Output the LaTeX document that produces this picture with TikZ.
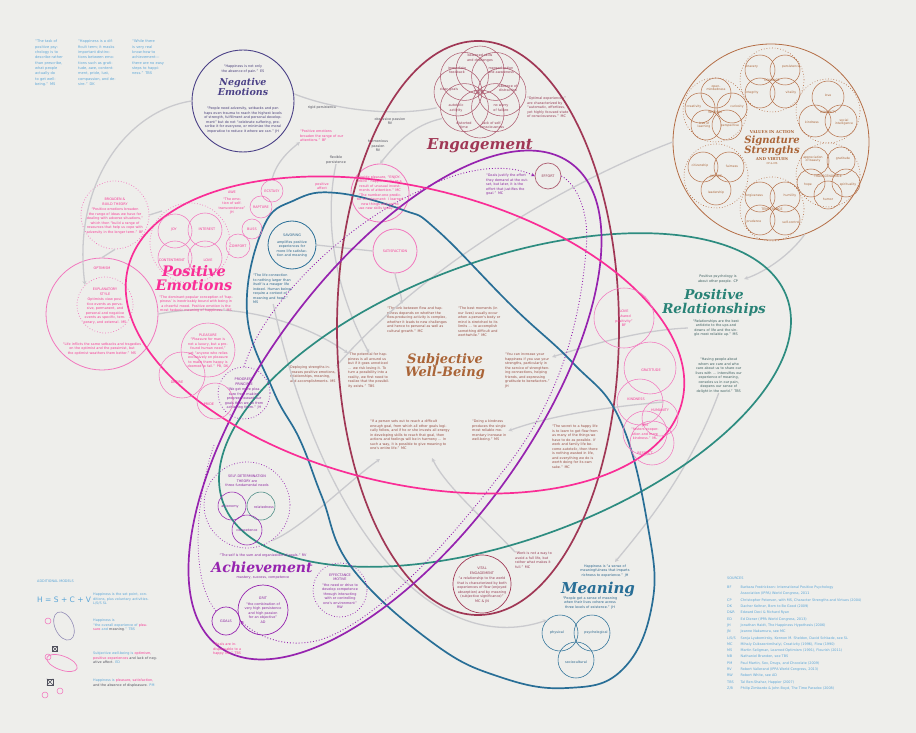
\documentclass[tikz,border=0pt]{standalone}
\usepackage{fontspec}
\setmainfont{DejaVu Sans}
\newfontfamily\ttlfont{DejaVu Serif}
\newfontfamily\smfont{DejaVu Sans}
\usetikzlibrary{arrows.meta,calc}
\definecolor{bgc}{RGB}{238,238,235}
\definecolor{pk}{RGB}{250,45,150}
\definecolor{pkl}{RGB}{242,120,190}
\definecolor{tl}{RGB}{45,140,128}
\definecolor{mr}{RGB}{160,55,85}
\definecolor{flc}{RGB}{175,95,115}
\definecolor{pu}{RGB}{150,35,175}
\definecolor{bl}{RGB}{40,110,150}
\definecolor{nv}{RGB}{75,65,135}
\definecolor{brc}{RGB}{180,110,70}
\definecolor{gr}{RGB}{202,202,206}
\definecolor{tpk}{RGB}{245,60,150}
\definecolor{tnv}{RGB}{70,60,120}
\definecolor{tmr}{RGB}{150,60,85}
\definecolor{tbr}{RGB}{170,100,55}
\definecolor{tsw}{RGB}{150,75,65}
\definecolor{ttl}{RGB}{40,130,118}
\definecolor{tpu}{RGB}{140,40,160}
\definecolor{tbl}{RGB}{40,100,140}
\definecolor{tlb}{RGB}{90,165,215}
\definecolor{tdk}{RGB}{80,80,92}
\definecolor{trel}{RGB}{60,95,95}
\begin{document}
\begin{tikzpicture}[x=1pt,y=-1pt,
  tx/.style={font={\smfont\fontsize{3.4}{4.5}\selectfont}, inner sep=0pt, align=center},
  txl/.style={tx, align=left, anchor=north west},
  ttlf/.style={font={\ttlfont\bfseries\itshape\fontsize{#1}{#1}\selectfont}, inner sep=0pt, align=center},
  ring/.style={circle, draw, inner sep=0pt, line width=0.55pt},
  dring/.style={circle, draw, inner sep=0pt, line width=0.75pt, dotted},
  rad/.style={minimum size={2*#1pt}},
  bigloop/.style={line width=1.7pt},
  garr/.style={draw=gr, line width=1.3pt, -{Stealth[length=4pt,width=4pt]}},
  gline/.style={draw=gr, line width=1.3pt},
  parr/.style={draw=pu, line width=0.9pt, dotted, -{Stealth[length=3.5pt,width=3.5pt]}}
]
\fill[bgc] (0,0) rectangle (916,733);
\useasboundingbox (0,0) rectangle (916,733);

% ---------- top-left quotes ----------
\node[txl, text=tlb, text width=28pt, font={\smfont\fontsize{3.6}{5.3}\selectfont}] (q1) at (35,40) {“The task of positive psychology is to describe rather than prescribe, what people actually do to get well-being.” MS};
\node[txl, text=tlb, text width=38pt, font={\smfont\fontsize{3.6}{5.3}\selectfont}] (q2) at (78,40) {“Happiness is a difficult term; it masks important distinctions between emotions such as gratitude, awe, contentment, pride, lust, compassion, and desire.” DK};
\node[txl, text=tlb, text width=34pt, font={\smfont\fontsize{3.6}{5.3}\selectfont}] (q3) at (132,40) {“While there is very real know-how to achievement---there are no easy steps to happiness.” TBS};

% ---------- grey connectors ----------
\node[ring, draw=nv, line width=0.9pt, rad=51] (neg) at (243,101) {};
\node[dring, draw=pkl, rad=28] (expl) at (105,305) {};
\node[dring, draw=pkl, rad=34] (bb) at (115,215) {};
\node[ring, draw=pkl, line width=0.8pt, rad=56] (opt) at (102,314) {};
\coordinate (flc) at (480,92);
\node[circle, inner sep=0pt, rad=46] (fl) at (flc) {};
\node[ring, draw=pkl, line width=0.8pt, rad=29] (enj) at (380,193) {};
\node[ring, draw=pkl, line width=0.8pt, rad=22] (satis) at (395,251) {};
\node[ring, draw=bl, line width=0.8pt, rad=24] (sav) at (292,245) {};
\node[ring, draw=pkl, rad=11] (ecs) at (272,191) {};
\node[ring, draw=brc, line width=0.8pt, rad=98] (sig) at (771,142) {};
\node[ring, draw=pkl, rad=23] (kind) at (640,402) {};
\node[dring, draw=pu, rad=43] (sdt) at (247,505) {};
\node[ring, draw=bl, rad=18] (mphys) at (560,633) {};

\node[txl, text=tbl, text width=40pt] (lifeq) at (253,274) {“The life connection to nothing larger than itself is a meager life indeed. Human beings require a context of meaning and hope.” MS};
\node[txl, text=tsw, text width=42pt] (potq) at (348,353) {“The potential for happiness is all around us but if it goes unnoticed ... we risk losing it. To turn a possibility into a reality, we first need to realize that the possibility exists.” TBS};
\node[txl, text=tsw, text width=46pt] (deploy) at (290,366) {Deploying strengths increases positive emotions, relationships, meaning, and accomplishments. MS};
\node[txl, text=tsw, text width=60pt] (linkq) at (387,307) {“The link between flow and happiness depends on whether the flow-producing activity is complex, whether it leads to new challenges and hence to personal as well as cultural growth.” MC};
\node[txl, text=tsw, text width=46pt] (bestq) at (458,307) {“The best moments (in our lives) usually occur when a person's body or mind is stretched to its limits ... to accomplish something difficult and worthwhile.” MC};
\node[txl, text=tsw, text width=46pt] (incq) at (505,353) {“You can increase your happiness if you use your strengths, particularly in the service of strengthening connections, helping friends, and expressing gratitude to benefactors.” JH};
\node[txl, text=tsw, text width=80pt] (ifq) at (370,420) {“If a person sets out to reach a difficult enough goal, from which all other goals logically follow, and if he or she invests all energy in developing skills to reach that goal, then actions and feelings will be in harmony ... In such a way, it is possible to give meaning to one's entire life.” MC};
\node[txl, text=tsw, text width=36pt] (kindq) at (472,420) {“Doing a kindness produces the single most reliable momentary increase in well-being.” MS};
\node[txl, text=tsw, text width=48pt] (secq) at (552,425) {“The secret to a happy life is to learn to get flow from as many of the things we have to do as possible. If work and family life become autotelic, then there is nothing wasted in life, and everything we do is worth doing for its own sake.” MC};
\node[txl, text=tpk, text width=46pt] (pbq) at (300,130) {“Positive emotions broaden the range of our attentions.” BF};
\node[tx, text=tdk] (rigid) at (322,108) {rigid persistence};
\node[tx, text=tdk] (obs) at (390,121) {obsessive passion\\RV};
\node[tx, text=tdk] (harm) at (378,146) {harmonious\\passion\\RV};
\node[tx, text=tdk] (flexp) at (336,160) {flexible\\persistence};
\node[tx, text=tpk] (posaff) at (322,186) {positive\\affect};
\node[txl, text=trel, text width=52pt, align=center, anchor=center] (ppq) at (718,279) {Positive psychology is about other people. CP};
\node[txl, text=trel, text width=56pt, align=center, anchor=center] (relq) at (716,328) {“Relationships are the best antidote to the ups and downs of life and the single most reliable up.” MS};
\node[txl, text=trel, text width=47pt, align=center] (havq) at (695,358) {“Having people about whom we care and who care about us to share our lives with ... intensifies our experience of meaning, consoles us in our pain, deepens our sense of delight in the world.” TBS};
\node[tx, text=tbl, text width=62pt] (mq1) at (605,571) {Happiness is “a sense of meaningfulness that imparts richness to experience.” JH};
\node[txl, text=tmr, text width=38pt] (workq) at (515,552) {“Work is not a way to avoid a full life, but rather what makes it full.” MC};

\draw[garr] (neg.west) .. controls (130,110) and (72,180) .. (expl.north west);
\draw[gline] (bb.east) -- (162,211);
\draw[gline] (bb.south) -- (opt.north);
\draw[garr] (opt.east) .. controls (230,300) and (300,320) .. (potq.north west);
\draw[garr] (lifeq.south) .. controls (320,520) and (430,660) .. (mphys.north west);
\draw[gline] (sav.east) -- (satis.west);
\coordinate (linkin) at (402,304);
\draw[garr] (satis.south) to[out=-80,in=95] (linkin);
\draw[gline] (deploy.north east) .. controls (420,270) and (560,185) .. (sig.west);
\draw[garr] (sig.-70) .. controls (790,255) and (765,272) .. (ppq.east);
\coordinate (incin) at (552,357);
\draw[garr] (relq.west) .. controls (640,330) and (590,345) .. (incin);
\draw[garr] (kind.east) .. controls (630,405) and (560,412) .. (kindq.east);
\coordinate (mqin) at (615,562);
\draw[garr] (havq.south) .. controls (690,470) and (650,520) .. (mqin);
\coordinate (ifin) at (432,458);
\draw[garr] (workq.north west) .. controls (480,515) and (445,485) .. (ifin);
\coordinate (ifin2) at (380,459);
\draw[garr] (sdt.-55) .. controls (300,530) and (350,480) .. (ifin2);
\draw[gline] (neg.8) .. controls (340,112) and (400,116) .. (fl.200);
\draw[garr] (fl.215) .. controls (412,125) and (395,145) .. (enj.north);
\draw[garr] (ecs.north) .. controls (276,162) and (290,150) .. (pbq.south west);
\draw[garr] (flexp.south) .. controls (322,230) and (340,300) .. (potq.north);

% ---------- major loops ----------
\draw[tl, bigloop, rotate around={20:(505,400)}] (505,400) ellipse [x radius=300pt, y radius=140pt];
\draw[mr, bigloop] (478,328) ellipse [x radius=141pt, y radius=287pt];
\draw[bl, bigloop] plot[smooth cycle, tension=0.7] coordinates {(263,228) (247,313) (273,390) (300,440) (322,497) (352,568) (433,643) (500,677) (567,688) (622,670) (652,605) (648,527) (620,420) (573,363) (513,307) (437,230) (403,210) (337,193) (295,200)};
\draw[pu, bigloop, rotate around={54:(395,405)}] (395,405) ellipse [x radius=299pt, y radius=134pt];
\draw[pk, bigloop] [rotate around={-13.5:(405,335)}] (405,335) ellipse [x radius=285pt, y radius=148pt];

% ---------- purple dotted arrows ----------
\node[ring, draw=flc, line width=0.7pt, rad=13] (effort) at (548,176) {};
\node[tx, text=tmr] (effortl) at (effort) {EFFORT};
\node[dring, draw=pu, rad=26] (prog) at (244,393) {};
\node[ring, draw=pu, line width=0.7pt, rad=14] (goals) at (226,621) {};
\draw[parr] (prog.north) .. controls (265,300) and (350,222) .. (417,192) .. controls (460,168) and (505,162) .. (effort.west);
\draw[parr] (effort.east) .. controls (578,185) and (590,215) .. (586,250) .. controls (578,350) and (545,420) .. (500,475) .. controls (450,540) and (380,620) .. (320,640) .. controls (290,648) and (262,640) .. (goals.east);
\draw[pu, line width=0.75pt, dotted] (214,445) .. controls (195,500) and (190,580) .. (goals.north west);

% ---------- Negative emotions ----------
\node[tx, text=tnv, text width=58pt] (negq) at (243,69) {“Happiness is not only the absence of pain.” ES};
\node[ttlf=9.5, text=nv] (negt) at (243,87) {Negative\\Emotions};
\node[tx, text=tnv, text width=78pt] (negb) at (243,120) {“People need adversity, setbacks and perhaps even trauma to reach the highest levels of strength, fulfillment and personal development” but do not “celebrate suffering, prescribe it for everyone, or minimize the moral imperative to reduce it where we can.” JH};

% ---------- Engagement / flow ----------
\foreach \a [count=\i] in {0,45,...,315} {
  \node[ring, draw=flc, rad=24] (pet\i) at ($(flc)+(\a:22pt)$) {};
}
\node[tx, text=tmr] (f1) at (480,58) {balanced skills\\and challenges};
\node[tx, text=tmr] (f2) at (457,70) {immediate\\feedback};
\node[tx, text=tmr] (f3) at (501,70) {merged action\\and awareness};
\node[tx, text=tmr] (f4) at (449,90) {clear goals};
\node[tx, text=tmr] (f5) at (479,92) {FLOW};
\node[tx, text=tmr] (f6) at (508,88) {absence of\\distraction};
\node[tx, text=tmr] (f7) at (456,108) {autotelic\\activity};
\node[tx, text=tmr] (f8) at (501,108) {no worry\\of failure};
\node[tx, text=tmr] (f9) at (464,125) {distorted\\time};
\node[tx, text=tmr] (f10) at (492,125) {lack of self-\\consciousness};
\node[txl, text=tmr, text width=42pt] (optq) at (527,97) {“Optimal experiences” are characterized by “automatic, effortless, yet highly focused state of consciousness.” MC};
\node[ttlf=15, text=mr] (engt) at (480,146) {Engagement};
\node[txl, text=tpu, text width=46pt] (goalq) at (486,174) {“Goals justify the effort they demand at the outset, but later, it is the effort that justifies the goal.” MC};

% ---------- Positive emotions ----------
\node[tx, text=tpk, text width=54pt] (enjt) at (380,193) {Inside pleasure, “ENJOYMENT” happens only as a result of unusual investments of attention.” MC\\“The number-one predictor of enjoyment: I learned new things and got to use new skills today.” TR};
\node[tx, text=tpk] (satl) at (satis) {SATISFACTION};
\node[tx, text=tpk, text width=30pt] (awe) at (232,203) {AWE\\[2pt]“The emotion of self-transcendence” JH};
\node[tx, text=tpk] (ecsl) at (ecs) {ECSTASY};
\node[ring, draw=pkl, rad=11] (rap) at (261,207) {};
\node[tx, text=tpk] (rapl) at (rap) {RAPTURE};
\node[ring, draw=pkl, rad=10] (bliss) at (252,229) {};
\node[tx, text=tpk] (blissl) at (bliss) {BLISS};
\node[ring, draw=pkl, rad=12] (comf) at (238,246) {};
\node[tx, text=tpk] (comfl) at (comf) {COMFORT};
\node[dring, draw=pkl, rad=40] (joyd) at (190,243) {};
\node[ring, draw=pkl, rad=17] (joy) at (175,231) {};
\node[ring, draw=pkl, rad=17] (inter) at (205,230) {};
\node[ring, draw=pkl, rad=17] (cont) at (175,258) {};
\node[ring, draw=pkl, rad=17] (lov) at (205,258) {};
\node[tx, text=tpk] (joyl) at (174,230) {JOY};
\node[tx, text=tpk] (interl) at (207,229) {INTEREST};
\node[tx, text=tpk] (contl) at (172,260) {CONTENTMENT};
\node[tx, text=tpk] (lovl) at (208,260) {LOVE};
\node[tx, text=tpk, text width=58pt] (bbt) at (115,216) {BROADEN \&\\BUILD THEORY\\[1pt]“Positive emotions broaden the range of ideas we have for dealing with adverse situations,” which then “build a range of resources that help us cope with adversity in the longer term.” BF};
\node[tx, text=tpk] (optl) at (102,268) {OPTIMISM};
\node[tx, text=tpk, text width=48pt] (explt) at (105,306) {EXPLANATORY\\STYLE\\[1pt]Optimists view positive events as pervasive, permanent, and personal and negative events as specific, temporary, and external. MS};
\node[tx, text=tpk, text width=84pt] (lifeopt) at (102,349) {“Life inflicts the same setbacks and tragedies on the optimist and the pessimist, but the optimist weathers them better.” MS};
\node[ttlf=14.5, text=pk] (pet) at (194,278) {Positive\\Emotions};
\node[tx, text=tpk, text width=88pt] (peb) at (196,304) {“The dominant popular conception of ‘happiness’ is inextricably bound with being in a cheerful mood. Positive emotion is the most hedonic meaning of happiness.” MS};
\node[ring, draw=pkl, rad=23] (des) at (182,375) {};
\node[tx, text=tpk] (desl) at (177,382) {DESIRE};
\node[ring, draw=pkl, rad=18] (pride) at (215,401) {};
\node[tx, text=tpk] (pridel) at (209,404) {PRIDE};
\node[ring, draw=pkl, fill=bgc, fill opacity=0.0, rad=27] (plea) at (208,350) {};
\node[tx, text=tpk, text width=46pt] (pleat) at (208,351) {PLEASURE\\“Pleasure for man is not a luxury, but a profound human need,” yet “anyone who relies exclusively on pleasure to make them happy is doomed to fail.” PB, DK};
\node[tx, text=tpu, text width=44pt] (progt) at (244,394) {PROGRESS\\PRINCIPLE\\[1pt]“We get more pleasure from making progress toward our goals than we do from achieving them.” JH};
\node[tx, text=tbl, text width=40pt] (savt) at (292,246) {SAVORING\\[2pt]amplifies positive experiences for more life satisfaction and meaning};

% ---------- Subjective well-being ----------
\node[ttlf=13, text=tbr] (swb) at (445,367) {Subjective\\Well-Being};

% ---------- Positive relationships ----------
\node[ring, draw=pkl, rad=30] (love2) at (624,318) {};
\node[tx, text=tpk] (love2l) at (624,318) {LOVE\\[1pt]“shared\\positivity”\\BF};
\node[ring, draw=pkl, rad=26] (grat) at (650,368) {};
\node[tx, text=tpk] (gratl) at (651,370) {GRATITUDE};
\node[tx, text=tpk] (kindl) at (636,399) {KINDNESS};
\node[ring, draw=pkl, rad=18] (hum) at (660,418) {};
\node[ring, draw=pkl, rad=22] (jen) at (645,433) {};
\node[ring, draw=pkl, rad=22] (resp) at (652,443) {};
\node[tx, text=tpk] (huml) at (660,410) {HUMANITY};
\node[tx, text=tpk, text width=36pt] (jenl) at (645,432) {JEN\\“fosters cooperation and more kindness.” ML};
\node[tx, text=tpk] (respl) at (645,453) {RESPECT};
\node[ttlf=13.5, text=ttl] (prt) at (714,303) {Positive\\Relationships};

% ---------- Signature strengths ----------
\foreach \n/\x/\y in {c1/772/80, c2/715/110, c3/828/111, c4/716/176, c5/828/175, c6/772/209} {
  \node[dring, draw=brc, line width=0.6pt, rad=32] (\n) at (\x,\y) {};
}
\foreach \n/\x/\y/\r in {a1/760/70/15, a2/785/70/15, a3/760/93/15, a4/785/93/15,
  b1/716/93/15, b2/700/108/15, b3/732/108/15, b4/706/125/15, b5/727/125/15,
  h1/828/97/16, h2/815/121/16, h3/841/121/16,
  j1/703/167/15, j2/729/167/15, j3/716/190/15,
  t1/815/161/14, t2/841/161/14, t3/811/183/14, t4/846/183/14, t5/828/195/14,
  m1/760/197/15, m2/785/197/15, m3/760/220/15, m4/785/220/15} {
  \node[ring, draw=brc, line width=0.5pt, rad=\r] (\n) at (\x,\y) {};
}
\foreach \n/\x/\y/\t in {la1/752/67/bravery, la2/791/67/persistence, la3/752/93/integrity, la4/791/93/vitality, lac/772/80/COURAGE,
  lb1/716/88/open-\\mindedness, lb2/694/107/creativity, lb3/737/107/curiosity, lb4/704/125/love of\\learning, lb5/730/126/perspective, lbc/715/112/WISDOM,
  lh1/828/95/love, lh2/812/122/kindness, lh3/844/122/social\\intelligence, lhc/828/112/HUMANITY,
  lj1/700/166/citizenship, lj2/732/166/fairness, lj3/716/193/leadership, ljc/716/177/JUSTICE,
  lt1/813/159/appreciation\\of beauty, lt2/843/159/gratitude, lt3/808/185/hope, lt4/848/185/spirituality, lt5/828/199/humor, ltc/828/176/TRANSCENDENCE,
  lm1/754/196/forgiveness, lm2/790/196/humility, lm3/754/222/prudence, lm4/791/222/self-control, lmc/772/209/TEMPERANCE} {
  \node[tx, text=tbr, font={\smfont\fontsize{3.1}{3.6}\selectfont}] (\n) at (\x,\y) {\t};
}
\node[tx, text=tbr, font={\ttlfont\bfseries\fontsize{4}{4}\selectfont}] (via) at (772,132) {VALUES IN ACTION};
\node[ttlf=10, text=tbr] (sigt) at (772,146) {Signature\\Strengths};
\node[tx, text=tbr, font={\ttlfont\bfseries\fontsize{4}{4}\selectfont}] (virt) at (772,159) {AND VIRTUES};
\node[tx, text=tbr, font={\smfont\fontsize{2.6}{3}\selectfont}] (cpms) at (772,164) {CP \& MS};

% ---------- Achievement ----------
\node[tx, text=tpu, text width=60pt] (sdtt) at (247,481) {SELF-DETERMINATION\\THEORY are\\three fundamental needs};
\node[ring, draw=pu, rad=14] (aut) at (232,506) {};
\node[ring, draw=tl!70!gray, rad=14] (rel) at (261,506) {};
\node[ring, draw=pu, rad=15] (comp) at (247,530) {};
\node[tx, text=tpu] (autl) at (230,507) {autonomy};
\node[tx, text=tpu] (rell) at (264,507) {relatedness};
\node[tx, text=tpu] (compl) at (247,531) {competence};
\node[tx, text=tpu] (selfq) at (263,556) {“The self is the sum and organization of goals.” RV};
\node[ttlf=14, text=pu] (acht) at (262,567) {Achievement};
\node[tx, text=tpu] (mast) at (263,578) {mastery, success, competence};
\node[ring, draw=pu, line width=0.7pt, rad=25] (grit) at (263,610) {};
\node[tx, text=tpu, text width=44pt] (gritt) at (263,610) {GRIT\\[1pt]“the combination of very high persistence and high passion for an objective”\\AD};
\node[tx, text=tpu] (goalsl) at (goals) {GOALS};
\node[txl, text=tpk, text width=30pt] (goalsq) at (213,643) {“Goals are indispensable to a happy life.” TBS};
\node[dring, draw=pu, rad=27] (eff) at (340,590) {};
\node[tx, text=tpu, text width=44pt] (efft) at (340,591) {EFFECTANCE\\MOTIVE\\[1pt]“the need or drive to develop competence through interacting with or controlling one's environment”\\RW};

% ---------- Meaning ----------
\node[ring, draw=mr, line width=0.7pt, rad=29] (vital) at (482,584) {};
\node[tx, text=tmr, text width=52pt] (vitalt) at (482,585) {VITAL\\ENGAGEMENT\\[1pt]“a relationship to the world that is characterized by both experiences of flow (enjoyed absorption) and by meaning (subjective significance)”\\MC \& JN};
\node[ttlf=15, text=bl] (meant) at (598,589) {Meaning};
\node[tx, text=tbl, text width=80pt] (mq2) at (590,603) {“People get a sense of meaning when their lives cohere across three levels of existence.” JH};
\node[ring, draw=bl, rad=18] (mpsy) at (592,633) {};
\node[ring, draw=bl, rad=18] (msoc) at (576,660) {};
\node[tx, text=tbl] (mphysl) at (557,633) {physical};
\node[tx, text=tbl] (mpsyl) at (596,633) {psychological};
\node[tx, text=tbl] (msocl) at (576,662) {sociocultural};

% ---------- Additional models ----------
\node[tx, text=tlb, anchor=west] (addm) at (37,581) {ADDITIONAL MODELS};
\node[text=tlb, anchor=west, inner sep=0pt, font={\smfont\fontsize{7.5}{8}\selectfont}] (hsv) at (37,600) {H = S + C + V};
\node[txl, text=tlb, text width=56pt] (m1t) at (93,593) {Happiness is the set point, conditions, plus voluntary activities. L/S/S SL};
\draw[nv!60, line width=0.6pt, rotate around={25:(64,626)}] (64,626) ellipse [x radius=9pt, y radius=15pt];
\node[ring, draw=pkl, rad=3] (i2) at (48,621) {};
\node[txl, text=tlb, text width=58pt] (m2t) at (93,619) {Happiness is\\“the overall experience of {\color{tpk}pleasure} and {\color{tdk}meaning}.” TBS};
\node[draw=tdk, line width=0.4pt, minimum size=5pt, inner sep=0pt] (bx1) at (55,649) {};
\draw[tdk, line width=0.4pt] (bx1.north west) -- (bx1.south east) (bx1.north east) -- (bx1.south west);
\draw[pkl, line width=0.7pt, rotate around={-20:(62,663)}] (62,663) ellipse [x radius=16pt, y radius=7pt];
\node[ring, draw=pkl, rad=3] (i3) at (48,657) {};
\node[txl, text=tlb, text width=64pt] (m3t) at (93,652) {Subjective well-being is {\color{tpk}optimism, positive experiences} {\color{tdk}and lack of negative affect.} ED};
\node[draw=tdk, line width=0.4pt, minimum size=6pt, inner sep=0pt] (bx2) at (50,682) {};
\draw[tdk, line width=0.4pt] (bx2.north west) -- (bx2.south east) (bx2.north east) -- (bx2.south west);
\node[ring, draw=pkl, rad=3] (i4a) at (45,695) {};
\node[ring, draw=pkl, rad=3] (i4b) at (60,691) {};
\node[txl, text=tlb, text width=62pt] (m4t) at (93,679) {Happiness is {\color{tpk}pleasure, satisfaction,} {\color{tdk}and the absence of displeasure.} PM};

% ---------- Sources ----------
\node[tx, text=tlb, anchor=west] (srch) at (727,578) {SOURCES};
\node[anchor=north west, inner sep=0pt, text=tlb, font={\smfont\fontsize{3.4}{6.3}\selectfont}] (srcs) at (727,584) {%
\begin{tabular}{@{}l@{\hspace{5pt}}l@{}}
BF & Barbara Fredrickson: International Positive Psychology\\
 & Association (IPPA) World Congress, 2011\\
CP & Christopher Peterson, with MS, Character Strengths and Virtues (2004)\\
DK & Dacher Keltner, Born to Be Good (2009)\\
D\&R & Edward Deci \& Richard Ryan\\
ED & Ed Diener (IPPA World Congress, 2013)\\
JH & Jonathan Haidt, The Happiness Hypothesis (2006)\\
JN & Jeanne Nakamura, see MC\\
L/S/S & Sonja Lyubomirsky, Kennon M. Sheldon, David Schkade, see SL\\
MC & Mihaly Csikszentmihalyi, Creativity (1996), Flow (1990)\\
MS & Martin Seligman, Learned Optimism (1991), Flourish (2011)\\
NB & Nathaniel Branden, see TBS\\
PM & Paul Martin, Sex, Drugs, and Chocolate (2009)\\
RV & Robert Vallerand (IPPA World Congress, 2013)\\
RW & Robert White, see AD\\
TBS & Tal Ben-Shahar, Happier (2007)\\
Z/B & Philip Zimbardo \& John Boyd, The Time Paradox (2008)
\end{tabular}};
\end{tikzpicture}
\end{document}
